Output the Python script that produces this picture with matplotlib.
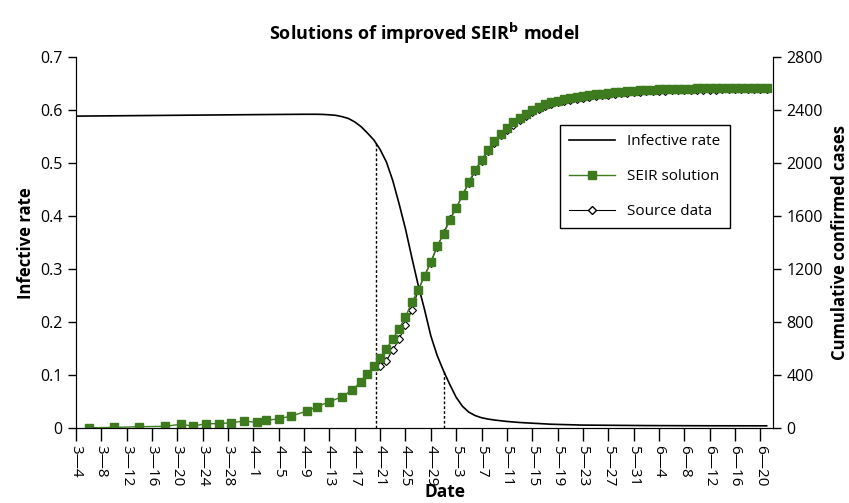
import numpy as np
import matplotlib
matplotlib.use("Agg")
import matplotlib.pyplot as plt
from matplotlib.lines import Line2D

plt.rcParams['font.family'] = ['Open Sans', 'DejaVu Sans']

# day offsets counted from 3-4
tick_days = np.arange(0, 109, 4)
tick_labels = ["3\u20144", "3\u20148", "3\u201412", "3\u201416", "3\u201420", "3\u201424", "3\u201428",
               "4\u20141", "4\u20145", "4\u20149", "4\u201413", "4\u201417", "4\u201421", "4\u201425",
               "4\u201429", "5\u20143", "5\u20147", "5\u201411", "5\u201415", "5\u201419", "5\u201423",
               "5\u201427", "5\u201431", "6\u20144", "6\u20148", "6\u201412", "6\u201416", "6\u201420"]

# infective rate (left axis)
rate_days = [0, 10, 20, 30, 36, 38, 39, 40, 41, 42, 43, 44, 45, 46, 47, 48, 49, 50, 51, 52, 53,
             54, 55, 56, 57, 58, 59, 60, 61, 62, 63, 64, 65, 66, 68, 70, 75, 80, 90, 100, 109]
rate_vals = [0.589, 0.590, 0.591, 0.592, 0.5925, 0.5925, 0.5922, 0.5915, 0.5905, 0.588, 0.5845,
             0.578, 0.569, 0.557, 0.544, 0.526, 0.502, 0.467, 0.423, 0.376, 0.322, 0.270, 0.224,
             0.174, 0.137, 0.108, 0.082, 0.058, 0.041, 0.030, 0.0235, 0.0195, 0.017, 0.0152,
             0.0125, 0.0105, 0.0072, 0.0056, 0.0047, 0.0043, 0.0042]

# SEIR solution (right axis): sparse early points then daily from day 47
seir_early_days = [2, 6, 10, 14, 16.5, 18.5, 20.5, 22.5, 24.5, 26.5, 28.5, 30, 32, 34, 36.5,
                   38, 40, 42, 43.5, 45, 46]
seir_early_vals = [2, 5, 10, 13, 28, 15, 33, 33, 40, 53, 43, 58, 70, 91, 129, 161, 199, 237,
                   285, 348, 406]
seir_daily_vals = [465, 530, 600, 675, 750, 840, 950, 1040, 1150, 1255, 1375, 1465, 1570, 1660,
                   1760, 1860, 1950, 2025, 2100, 2170, 2220, 2270, 2310, 2345, 2375, 2400, 2425,
                   2445, 2460, 2472, 2483, 2492, 2500, 2507, 2513, 2520, 2526, 2532, 2538, 2542,
                   2546, 2549, 2552, 2555, 2557, 2559, 2560, 2561, 2562, 2563, 2564, 2565, 2566,
                   2567, 2568, 2568, 2569, 2569, 2570, 2570, 2570, 2569, 2565]

# source data (right axis), daily from day 48
source_vals = [470, 510, 590, 670, 780, 890, 1040, 1150, 1250, 1370, 1470, 1580, 1660, 1760,
               1850, 1940, 2020, 2090, 2150, 2210, 2250, 2290, 2330, 2360, 2385, 2410, 2430,
               2445, 2460, 2470, 2480, 2488, 2495, 2500, 2506, 2512, 2518, 2524, 2528, 2532,
               2536, 2540, 2543, 2545, 2547, 2549, 2550, 2551, 2552, 2553, 2554, 2555, 2556,
               2557, 2558, 2558, 2559, 2559, 2560, 2560, 2560, 2560]

# dotted markers on the infective curve
mark_days = [47.3, 58.0]

green = '#3e7b1f'

seir_days = list(seir_early_days) + list(np.arange(47, 47 + len(seir_daily_vals)))
seir_vals = seir_early_vals + seir_daily_vals
source_days = np.arange(48, 48 + len(source_vals))

fig = plt.figure(figsize=(8.49, 5.03), dpi=100)
ax = fig.add_axes([0.0895, 0.149, 0.821, 0.737])
ax2 = ax.twinx()

ax.plot(rate_days, rate_vals, color='black', lw=1.2)
for d in mark_days:
    ax.vlines(d, 0, np.interp(d, rate_days, rate_vals), colors='black', linestyles=(0, (2, 1.5)), lw=1)

ax2.plot(source_days, source_vals, color='black', lw=0.8, marker='D', ms=4.5,
         mfc='white', mec='black', mew=0.8)
ax2.plot(seir_days, seir_vals, color=green, lw=1, marker='s', ms=5.5, mfc=green, mec=green)

ax.set_xlim(0, 110)
ax.set_ylim(0, 0.7)
ax2.set_ylim(0, 2800)
ax.set_yticks(np.arange(0, 0.71, 0.1))
ax.set_yticklabels(["0", "0.1", "0.2", "0.3", "0.4", "0.5", "0.6", "0.7"])
ax2.set_yticks(np.arange(0, 2801, 400))
ax.set_xticks(tick_days)
ax.set_xticklabels(tick_labels, rotation=270)

for a in (ax, ax2):
    a.spines['top'].set_visible(False)
    a.tick_params(direction='out', length=6, width=1, labelsize=11.5)
ax.tick_params(axis='x', length=9, pad=3, labelsize=11)

ax.set_ylabel("Infective rate", fontweight='bold', fontsize=12, labelpad=4)
ax2.set_ylabel("Cumulative confirmed cases", fontweight='bold', fontsize=12, labelpad=6)
fig.text(0.524, 0.003, "Date", ha='center', va='bottom', fontweight='bold', fontsize=12.5)
fig.text(0.5, 0.934, "Solutions of improved SEIR$^\\mathbf{b}$ model", ha='center', va='center',
         fontweight='bold', fontsize=13)

handles = [Line2D([], [], color='black', lw=1.2),
           Line2D([], [], color=green, lw=1, marker='s', ms=5.5, mfc=green, mec=green),
           Line2D([], [], color='black', lw=0.8, marker='D', ms=4.5, mfc='white', mec='black')]
leg = ax2.legend(handles, ["Infective rate", "SEIR solution", "Source data"],
                 loc='upper right', bbox_to_anchor=(0.938, 0.817), borderaxespad=0,
                 fancybox=False, edgecolor='black', fontsize=11, labelspacing=1.3,
                 handlelength=3, borderpad=0.6, framealpha=1)
leg.get_frame().set_linewidth(1)

fig.savefig("out.png", dpi=100)
